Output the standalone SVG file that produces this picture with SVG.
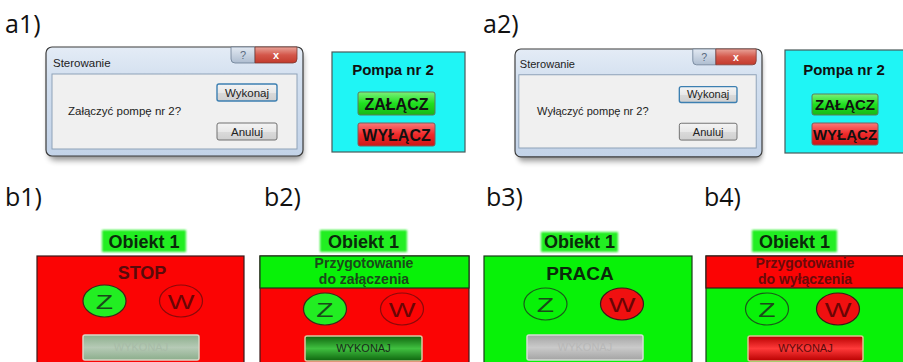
<svg xmlns="http://www.w3.org/2000/svg" width="903" height="362" viewBox="0 0 903 362">
  <style>
    .lbl { font-family: "Open Sans", "Liberation Sans", sans-serif; font-size: 25px; fill: #111; }
    .win { font-family: "Liberation Sans", "DejaVu Sans", sans-serif; font-size: 11.5px; fill: #222; }
    .winbtn { font-family: "Liberation Sans", "DejaVu Sans", sans-serif; font-size: 11.5px; fill: #222; text-anchor: middle; }
    .bold { font-family: "Liberation Sans", Arial, sans-serif; font-weight: bold; text-anchor: middle; }
    .reg { font-family: "Liberation Sans", Arial, sans-serif; text-anchor: middle; }
    .frame { fill: url(#gFrame); stroke: #3c3c3c; stroke-width: 1.2; }
    .inner { fill: #f0f0f0; stroke: #8ea2b8; stroke-width: 1; }
    .wbtn { fill: url(#gWinBtn); stroke: #707070; stroke-width: 1; }
    .wbtnf { fill: url(#gWinBtn); stroke: #3c7fb1; stroke-width: 1.4; }
    .cyan { fill: #1ff5f5; stroke: #4a5a5a; stroke-width: 1.2; }
    .on { fill: url(#gOn); stroke: #5c7c5c; stroke-width: 1; }
    .off { fill: url(#gOff); stroke: #7c5c5c; stroke-width: 1; }
    .tag { fill: #22ee22; }
    .pRed { fill: #fb0404; stroke: #3a1a1a; stroke-width: 1.2; }
    .pGreen { fill: #08f208; stroke: #1a3a1a; stroke-width: 1.2; }
    .zw { font-family: "Liberation Sans", Arial, sans-serif; text-anchor: middle; font-size: 21px; }
    .hdr { font-family: "Liberation Sans", Arial, sans-serif; font-weight: bold; text-anchor: middle; font-size: 14px; }
  </style>
  <defs>
    <linearGradient id="gFrame" x1="0" y1="0" x2="0" y2="1">
      <stop offset="0" stop-color="#e4ecf6"/>
      <stop offset="0.3" stop-color="#d2dfef"/>
      <stop offset="1" stop-color="#c3d3e8"/>
    </linearGradient>
    <linearGradient id="gWinBtn" x1="0" y1="0" x2="0" y2="1">
      <stop offset="0" stop-color="#f4f4f4"/>
      <stop offset="0.5" stop-color="#e8e8e8"/>
      <stop offset="0.52" stop-color="#dadada"/>
      <stop offset="1" stop-color="#cfcfcf"/>
    </linearGradient>
    <linearGradient id="gHelp" x1="0" y1="0" x2="0" y2="1">
      <stop offset="0" stop-color="#e2e9f2"/>
      <stop offset="1" stop-color="#aebdd0"/>
    </linearGradient>
    <linearGradient id="gClose" x1="0" y1="0" x2="0" y2="1">
      <stop offset="0" stop-color="#e8a49a"/>
      <stop offset="0.5" stop-color="#d4574a"/>
      <stop offset="1" stop-color="#c23a2c"/>
    </linearGradient>
    <linearGradient id="gOn" x1="0" y1="0" x2="0" y2="1">
      <stop offset="0" stop-color="#7af07a"/>
      <stop offset="0.5" stop-color="#1fe01f"/>
      <stop offset="1" stop-color="#16b816"/>
    </linearGradient>
    <linearGradient id="gOff" x1="0" y1="0" x2="0" y2="1">
      <stop offset="0" stop-color="#f87a7a"/>
      <stop offset="0.5" stop-color="#f02a2a"/>
      <stop offset="1" stop-color="#cc1616"/>
    </linearGradient>
    <linearGradient id="gExGreen" x1="0" y1="0" x2="0" y2="1">
      <stop offset="0" stop-color="#0e640e"/>
      <stop offset="0.5" stop-color="#40c040"/>
      <stop offset="1" stop-color="#0e640e"/>
    </linearGradient>
    <linearGradient id="gExRed" x1="0" y1="0" x2="0" y2="1">
      <stop offset="0" stop-color="#b80000"/>
      <stop offset="0.5" stop-color="#ff3a3a"/>
      <stop offset="1" stop-color="#b80000"/>
    </linearGradient>
    <linearGradient id="gExDimGreen" x1="0" y1="0" x2="0" y2="1">
      <stop offset="0" stop-color="#8cae8c"/>
      <stop offset="0.5" stop-color="#b6cab6"/>
      <stop offset="1" stop-color="#8cae8c"/>
    </linearGradient>
    <linearGradient id="gExDimGrey" x1="0" y1="0" x2="0" y2="1">
      <stop offset="0" stop-color="#a4a4a4"/>
      <stop offset="0.5" stop-color="#cacaca"/>
      <stop offset="1" stop-color="#a4a4a4"/>
    </linearGradient>
    <filter id="shadow" x="-10%" y="-10%" width="120%" height="130%">
      <feGaussianBlur stdDeviation="3"/>
    </filter>
    <filter id="soft" x="-10%" y="-30%" width="120%" height="160%">
      <feGaussianBlur stdDeviation="0.8"/>
    </filter>
  </defs>

  <!-- section captions -->
  <g id="captions">
    <text class="lbl" x="5" y="33">a1)</text>
    <text class="lbl" x="483" y="33">a2)</text>
    <text class="lbl" x="5" y="206">b1)</text>
    <text class="lbl" x="264" y="206">b2)</text>
    <text class="lbl" x="486" y="206">b3)</text>
    <text class="lbl" x="704" y="206">b4)</text>
  </g>

  <!-- a1: confirmation dialog (switch on) -->
  <g id="dialog-a1" transform="translate(46,47)">
    <rect x="3" y="5" width="254" height="108" rx="6" fill="#000" opacity="0.45" filter="url(#shadow)"/>
    <rect class="frame" x="0" y="0" width="257" height="109" rx="6"/>
    <path d="M185,0 H209 V16 H189 A4,4 0 0 1 185,12 Z" fill="url(#gHelp)" stroke="#6a7c92" stroke-width="0.8"/>
    <path d="M209,0 H251 V12 A4,4 0 0 1 247,16 H209 Z" fill="url(#gClose)" stroke="#7a3a34" stroke-width="0.8"/>
    <text x="197" y="12" font-family="Liberation Sans, sans-serif" font-size="11" fill="#5a6a80" text-anchor="middle">?</text>
    <text x="230" y="12" font-family="Liberation Sans, sans-serif" font-size="11" font-weight="bold" fill="#fff" text-anchor="middle">x</text>
    <text class="win" x="7" y="20">Sterowanie</text>
    <rect class="inner" x="6" y="27" width="245" height="75"/>
    <text class="win" x="22" y="68">Załączyć pompę nr 2?</text>
    <rect class="wbtnf" x="171" y="37" width="60" height="17" rx="2"/>
    <text class="winbtn" x="201" y="50">Wykonaj</text>
    <rect class="wbtn" x="171" y="76" width="60" height="17" rx="2"/>
    <text class="winbtn" x="201" y="89">Anuluj</text>
  </g>

  <!-- a1: pump panel -->
  <g id="pump-a1" transform="translate(332,52)">
    <rect class="cyan" x="0" y="0" width="133" height="100"/>
    <text class="bold" x="61" y="23" font-size="15" fill="#111">Pompa nr 2</text>
    <rect class="on" x="26" y="40" width="77" height="23" rx="2"/>
    <text class="bold" x="64.5" y="58" font-size="16" fill="#111">ZAŁĄCZ</text>
    <rect class="off" x="26" y="71" width="77" height="23" rx="2"/>
    <text class="bold" x="64.5" y="89" font-size="16" fill="#111">WYŁĄCZ</text>
  </g>

  <!-- a2: confirmation dialog (switch off) -->
  <g id="dialog-a2" transform="translate(515,49) scale(0.961,0.99)">
    <rect x="3" y="5" width="254" height="108" rx="6" fill="#000" opacity="0.45" filter="url(#shadow)"/>
    <rect class="frame" x="0" y="0" width="257" height="109" rx="6"/>
    <path d="M185,0 H209 V16 H189 A4,4 0 0 1 185,12 Z" fill="url(#gHelp)" stroke="#6a7c92" stroke-width="0.8"/>
    <path d="M209,0 H251 V12 A4,4 0 0 1 247,16 H209 Z" fill="url(#gClose)" stroke="#7a3a34" stroke-width="0.8"/>
    <text x="197" y="12" font-family="Liberation Sans, sans-serif" font-size="11" fill="#5a6a80" text-anchor="middle">?</text>
    <text x="230" y="12" font-family="Liberation Sans, sans-serif" font-size="11" font-weight="bold" fill="#fff" text-anchor="middle">x</text>
    <text class="win" x="5" y="19">Sterowanie</text>
    <rect class="inner" x="4" y="26" width="247" height="74"/>
    <text class="win" x="23" y="67" font-size="11">Wyłączyć pompę nr 2?</text>
    <rect class="wbtnf" x="171" y="38" width="60" height="16" rx="2"/>
    <text class="winbtn" x="201" y="50">Wykonaj</text>
    <rect class="wbtn" x="171" y="75" width="60" height="17" rx="2"/>
    <text class="winbtn" x="201" y="88">Anuluj</text>
  </g>

  <!-- a2: pump panel -->
  <g id="pump-a2" transform="translate(785,50)">
    <rect class="cyan" x="0" y="0" width="125" height="103"/>
    <text class="bold" x="59" y="25" font-size="15" fill="#111">Pompa nr 2</text>
    <rect class="on" x="27" y="44" width="66" height="21" rx="2"/>
    <text class="bold" x="60" y="60" font-size="15" fill="#111">ZAŁĄCZ</text>
    <rect class="off" x="27" y="73" width="66" height="22" rx="2"/>
    <text class="bold" x="60" y="90" font-size="15" fill="#111">WYŁĄCZ</text>
  </g>

  <!-- b1: stopped -->
  <g id="object-b1">
    <rect class="tag" x="102" y="230" width="84" height="22" filter="url(#soft)"/>
    <text class="bold" x="144" y="248" font-size="18" fill="#0a2a0a">Obiekt 1</text>
    <rect class="pRed" x="37" y="256" width="207" height="110"/>
    <text class="bold" x="142" y="279" font-size="18" fill="#5a0a0a">STOP</text>
    <ellipse cx="104.5" cy="301" rx="21.5" ry="16" fill="#22ee22" stroke="#3a2a1a" stroke-width="1.2"/>
    <text class="zw" transform="translate(104.5,308.5) scale(1.35,1)" fill="#1a4a1a">Z</text>
    <ellipse cx="181" cy="301" rx="21.5" ry="16" fill="none" stroke="#8a0a0a" stroke-width="1.2"/>
    <text class="zw" transform="translate(181,308.5) scale(1.35,1)" fill="#6a0505">W</text>
    <rect x="83" y="335" width="116" height="25" rx="2" fill="url(#gExDimGreen)" stroke="#d8d8c8" stroke-width="1.5"/>
    <text class="reg" x="141" y="351" font-size="11" fill="#a8bca8">WYKONAJ</text>
  </g>

  <!-- b2: preparing to switch on -->
  <g id="object-b2">
    <rect class="tag" x="320" y="230" width="87" height="22" filter="url(#soft)"/>
    <text class="bold" x="363.5" y="248" font-size="18" fill="#0a2a0a">Obiekt 1</text>
    <rect class="pRed" x="260" y="256" width="209" height="110"/>
    <rect class="pGreen" x="260" y="256" width="209" height="32"/>
    <text class="hdr" x="364" y="268" fill="#1a4a1a">Przygotowanie</text>
    <text class="hdr" x="364" y="284" fill="#1a4a1a">do załączenia</text>
    <ellipse cx="325" cy="309" rx="21.5" ry="16" fill="#22ee22" stroke="#3a2a1a" stroke-width="1.2"/>
    <text class="zw" transform="translate(325,316.5) scale(1.35,1)" fill="#1a4a1a">Z</text>
    <ellipse cx="402" cy="309" rx="21.5" ry="16" fill="none" stroke="#8a0a0a" stroke-width="1.2"/>
    <text class="zw" transform="translate(402,316.5) scale(1.35,1)" fill="#6a0505">W</text>
    <rect x="305" y="336" width="117" height="25" rx="2" fill="url(#gExGreen)" stroke="#d8c8a0" stroke-width="1.5"/>
    <text class="reg" x="363.5" y="352" font-size="11" fill="#1a2a1a">WYKONAJ</text>
  </g>

  <!-- b3: running -->
  <g id="object-b3">
    <rect class="tag" x="541" y="232" width="77" height="20" filter="url(#soft)"/>
    <text class="bold" x="579.5" y="248" font-size="18" fill="#0a2a0a">Obiekt 1</text>
    <rect class="pGreen" x="484" y="256" width="208" height="110"/>
    <text class="bold" x="580" y="280" font-size="19" fill="#0a2a0a">PRACA</text>
    <ellipse cx="545.5" cy="304" rx="21.5" ry="16" fill="none" stroke="#1a5a1a" stroke-width="1.2"/>
    <text class="zw" transform="translate(545.5,311.5) scale(1.35,1)" fill="#1a4a1a">Z</text>
    <ellipse cx="622" cy="304" rx="21.5" ry="16" fill="#f01010" stroke="#3a1a1a" stroke-width="1.2"/>
    <text class="zw" transform="translate(622,311.5) scale(1.35,1)" fill="#6a0505">W</text>
    <rect x="527" y="335" width="116" height="25" rx="2" fill="url(#gExDimGrey)" stroke="#d8dcd8" stroke-width="1.5"/>
    <text class="reg" x="585" y="351" font-size="11" fill="#b8b8b8">WYKONAJ</text>
  </g>

  <!-- b4: preparing to switch off -->
  <g id="object-b4">
    <rect class="tag" x="752" y="230" width="85" height="22" filter="url(#soft)"/>
    <text class="bold" x="794.5" y="248" font-size="18" fill="#0a2a0a">Obiekt 1</text>
    <rect class="pGreen" x="706" y="256" width="205" height="110"/>
    <rect class="pRed" x="706" y="256" width="205" height="32"/>
    <text class="hdr" x="805" y="268" fill="#6a0a0a">Przygotowanie</text>
    <text class="hdr" x="805" y="284" fill="#6a0a0a">do wyłączenia</text>
    <ellipse cx="767" cy="309" rx="21.5" ry="16" fill="none" stroke="#1a5a1a" stroke-width="1.2"/>
    <text class="zw" transform="translate(767,316.5) scale(1.35,1)" fill="#1a4a1a">Z</text>
    <ellipse cx="838" cy="309" rx="21.5" ry="16" fill="#f01010" stroke="#3a1a1a" stroke-width="1.2"/>
    <text class="zw" transform="translate(838,316.5) scale(1.35,1)" fill="#6a0505">W</text>
    <rect x="748" y="336" width="115" height="25" rx="2" fill="url(#gExRed)" stroke="#e0c090" stroke-width="1.5"/>
    <text class="reg" x="805.5" y="352" font-size="11" fill="#5a0a0a">WYKONAJ</text>
  </g>
</svg>
